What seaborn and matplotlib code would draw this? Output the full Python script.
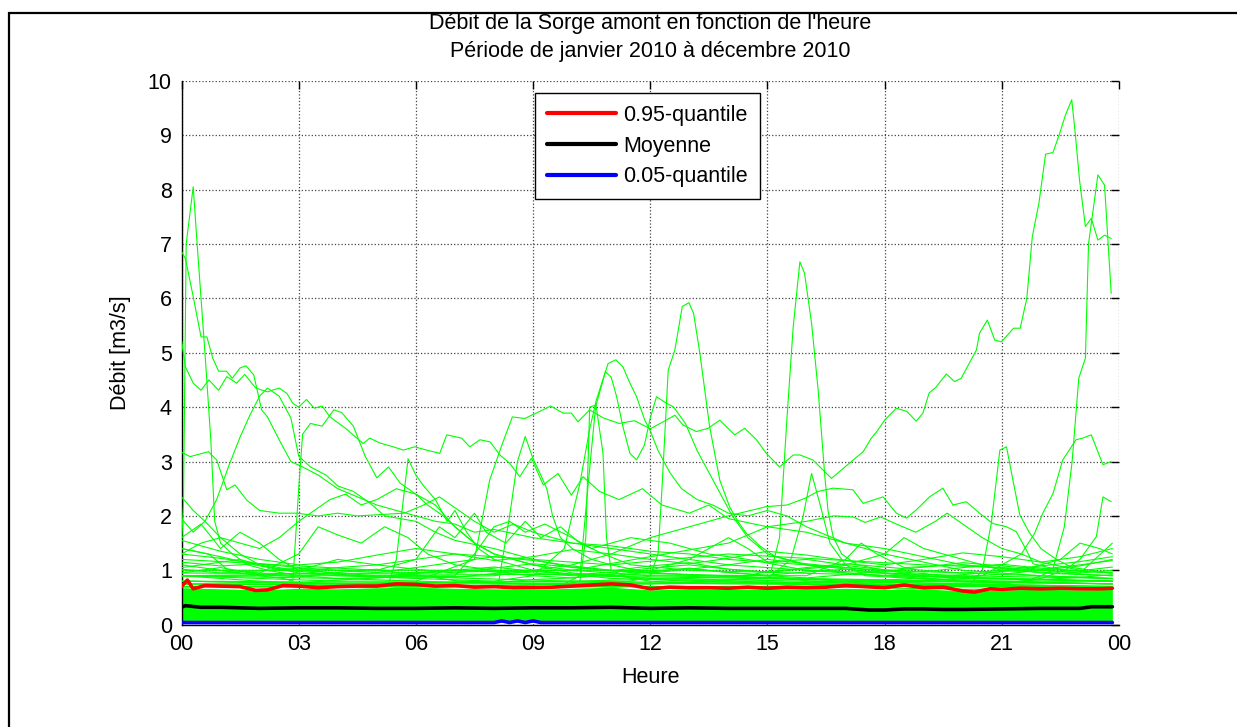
import matplotlib
matplotlib.use("Agg")
import matplotlib.pyplot as plt
import matplotlib.patches as mpatches
import pandas as pd
import seaborn as sns

# ---------------------------------------------------------------
# Débit horaire de la Sorge amont, 2010 (m3/s)
# Chaque journée marquante : heures (h) et débits (q)
# ---------------------------------------------------------------
j01_h = [0, 0.05, 0.12, 0.3, 0.4, 0.5, 0.6, 0.75, 0.85, 1.0, 1.3, 1.7, 2.2, 3.0, 4.0, 6.0, 9.0, 12.0, 16.0, 20.0, 23.83]
j01_q = [1.5, 2.2, 7.0, 8.05, 7.0, 6.0, 5.0, 3.4, 1.9, 1.5, 1.3, 1.1, 1.0, 0.9, 0.85, 0.8, 0.75, 0.7, 0.7, 0.65, 0.65]

j02_h = [0, 0.1, 0.3, 0.5, 0.65, 0.8, 0.95, 1.15, 1.3, 1.5, 1.65, 1.85, 2.05, 2.2, 2.5, 2.8, 3.1, 3.5, 4.0, 4.5,
         5.0, 5.5, 6.0, 6.5, 7.0, 7.5, 8.0, 9.0, 10, 11, 12, 13, 14, 16, 18, 20, 22, 23.83]
j02_q = [6.86, 6.73, 6.03, 5.29, 5.29, 4.9, 4.66, 4.66, 4.53, 4.72, 4.76, 4.59, 3.95, 3.82, 3.4, 3.0, 2.9, 2.75, 2.5, 2.35,
         2.2, 2.1, 2.0, 1.9, 1.85, 1.7, 1.75, 1.6, 1.5, 1.45, 1.35, 1.3, 1.2, 1.1, 1.0, 0.95, 0.9, 0.85]

j03_h = [0, 0.1, 0.3, 0.5, 0.7, 0.95, 1.16, 1.41, 1.62, 1.9, 2.2, 2.5, 2.7, 2.85, 3.0, 3.2, 3.4, 3.6, 3.8, 4.2,
         4.65, 4.82, 5.08, 5.42, 5.68, 5.97, 6.27, 6.61, 6.79, 7.17, 7.38, 7.64, 7.9, 8.15, 8.4, 8.66, 8.96, 9.26,
         9.64, 9.98, 10.28, 10.7, 11.2, 11.8, 12.3, 13.0, 13.5, 14.0, 15.0, 16.0, 17.0, 18.0, 19.0, 20.0, 21.0, 22.0, 23.83]
j03_q = [5.23, 4.74, 4.44, 4.31, 4.5, 4.31, 4.56, 4.44, 4.6, 4.35, 4.28, 4.35, 4.25, 4.07, 4.0, 4.14, 3.98, 4.02, 3.82, 3.61,
         3.33, 3.43, 3.34, 3.27, 3.21, 3.27, 3.21, 3.15, 3.49, 3.43, 3.27, 3.4, 3.36, 3.12, 2.97, 2.72, 3.06, 2.57,
         2.78, 2.38, 2.72, 2.45, 2.3, 2.5, 2.2, 2.05, 2.2, 1.95, 1.8, 1.7, 1.5, 1.4, 1.25, 1.1, 1.05, 0.95, 0.9]

j04_h = [0, 0.22, 0.69, 0.9, 1.16, 1.37, 1.67, 2.0, 2.5, 2.95, 3.5, 4.0, 4.5, 5.0, 5.7, 6.2, 6.6, 7.0, 7.5, 8.0,
         8.5, 9, 10, 11, 12, 13, 14, 16, 18, 20, 23.83]
j04_q = [3.17, 3.09, 3.18, 3.03, 2.48, 2.57, 2.29, 2.1, 2.05, 2.05, 2.0, 2.05, 2.0, 2.02, 2.05, 2.2, 2.35, 2.15, 1.9, 1.7,
         1.85, 1.7, 1.5, 1.4, 1.3, 1.2, 1.1, 1.0, 0.95, 0.9, 0.85]

j05_h = [0, 0.3, 0.6, 0.9, 1.2, 1.5, 1.75, 2.0, 2.2, 2.5, 2.8, 3.0, 3.3, 3.7, 4.0, 4.4, 4.8, 5.2, 5.6, 6.0,
         6.5, 7.0, 8, 9, 10, 12, 15, 18, 23.83]
j05_q = [2.35, 2.1, 1.9, 2.3, 2.9, 3.45, 3.85, 4.2, 4.35, 4.2, 3.8, 3.1, 2.9, 2.75, 2.55, 2.45, 2.25, 2.0, 1.95, 1.9,
         1.7, 1.55, 1.4, 1.2, 1.05, 0.95, 0.85, 0.8, 0.75]

j06_h = [0, 1, 2, 2.6, 2.85, 3.0, 3.1, 3.3, 3.6, 3.9, 4.1, 4.4, 4.7, 5.0, 5.3, 5.6, 6.0, 6.3, 6.7, 7.0,
         7.5, 8, 9, 10, 12, 16, 20, 23.83]
j06_q = [1.1, 1.0, 0.9, 0.85, 0.8, 2.5, 3.5, 3.7, 3.65, 3.95, 3.9, 3.65, 3.1, 2.7, 2.9, 2.6, 2.4, 2.2, 2.0, 1.8,
         1.5, 1.3, 1.1, 0.95, 0.85, 0.8, 0.75, 0.7]

j07_h = [0, 3, 5.3, 5.5, 5.8, 6.0, 6.2, 6.5, 6.8, 7.0, 7.3, 7.6, 8.0, 9, 11, 14, 18, 23.83]
j07_q = [0.7, 0.7, 0.75, 1.2, 3.05, 2.75, 2.55, 2.3, 1.9, 2.1, 1.7, 1.4, 1.2, 1.0, 0.85, 0.8, 0.75, 0.7]

j08_h = [0, 4, 7.5, 8.1, 8.4, 8.6, 8.8, 9.0, 9.2, 9.35, 9.5, 9.7, 10, 10.5, 11, 12, 14, 17, 20, 23.83]
j08_q = [0.8, 0.75, 0.7, 0.7, 2.0, 3.0, 3.46, 3.05, 2.75, 2.5, 2.0, 1.6, 1.4, 1.2, 1.1, 0.95, 0.9, 0.8, 0.75, 0.7]

# journée de la crue du soir (pointe à 9.6 m3/s)
j09_h = [0, 2, 4, 6, 7.5, 7.89, 8.2, 8.47, 8.79, 8.96, 9.17, 9.45, 9.77, 9.98, 10.15, 10.45, 10.8, 11.2, 11.6, 12.0,
         12.33, 12.63, 12.84, 13.18, 13.48, 13.78, 14.16, 14.42, 14.72, 14.97, 15.31, 15.66, 15.83, 16.16, 16.64,
         17.15, 17.45, 17.66, 17.8, 18.0, 18.3, 18.57, 18.81, 18.98, 19.14, 19.32, 19.58, 19.79, 19.96, 20.35,
         20.43, 20.63, 20.82, 20.99, 21.3, 21.47, 21.64, 21.78, 21.95, 22.12, 22.31, 22.48, 22.63, 22.79, 22.88,
         22.99, 23.14, 23.29, 23.46, 23.63, 23.8]
j09_q = [0.9, 0.85, 0.8, 0.8, 1.2, 2.66, 3.3, 3.82, 3.79, 3.85, 3.92, 4.02, 3.89, 3.89, 3.73, 3.95, 3.8, 3.7, 3.75, 3.6,
         3.73, 3.85, 3.67, 3.55, 3.61, 3.76, 3.49, 3.61, 3.4, 3.15, 2.9, 3.12, 3.12, 3.03, 2.69,
         3.0, 3.18, 3.43, 3.55, 3.76, 3.98, 3.92, 3.74, 3.89, 4.26, 4.37, 4.61, 4.47, 4.53, 5.05,
         5.36, 5.6, 5.23, 5.2, 5.45, 5.45, 6.0, 7.13, 7.75, 8.65, 8.68, 9.03, 9.37, 9.65, 9.03,
         8.17, 7.32, 7.47, 7.07, 7.16, 7.1]

j10_h = [0, 10, 20, 21.0, 21.6, 22.0, 22.3, 22.6, 22.8, 22.97, 23.14, 23.22, 23.46, 23.63, 23.8]
j10_q = [0.7, 0.7, 0.7, 0.75, 0.8, 0.9, 1.0, 1.8, 3.0, 4.53, 4.9, 7.0, 8.27, 8.08, 6.09]

j11_h = [0, 5, 10, 13, 14.5, 15.1, 15.31, 15.5, 15.66, 15.83, 15.95, 16.13, 16.3, 16.47, 16.55, 16.68, 16.9, 17.3,
         18, 19, 21, 23.83]
j11_q = [0.8, 0.75, 0.8, 0.85, 0.9, 1.0, 1.6, 3.8, 5.48, 6.67, 6.46, 5.54, 4.3, 2.72, 2.1, 1.62, 1.3, 1.1,
         1.0, 0.9, 0.85, 0.8]

j12_h = [0, 6, 10, 11.5, 12.0, 12.2, 12.3, 12.46, 12.63, 12.82, 12.99, 13.11, 13.27, 13.52, 13.78, 14.03, 14.25,
         14.46, 14.8, 15.2, 16, 17, 19, 21, 23.83]
j12_q = [0.75, 0.7, 0.75, 0.8, 0.9, 1.3, 2.5, 4.68, 5.05, 5.85, 5.92, 5.72, 4.99, 3.64, 2.66, 2.17, 1.89,
         1.68, 1.45, 1.25, 1.1, 0.95, 0.85, 0.8, 0.75]

j13_h = [0, 5, 8, 9, 9.8, 10.2, 10.45, 10.62, 10.92, 11.12, 11.3, 11.48, 11.65, 11.86, 11.99, 12.2, 12.5, 12.8,
         13.2, 13.6, 14, 14.5, 15, 15.5, 16, 17, 18, 19, 20, 22, 23.83]
j13_q = [0.8, 0.75, 0.8, 0.9, 1.4, 2.6, 3.6, 4.13, 4.8, 4.87, 4.74, 4.44, 4.19, 3.76, 3.58, 3.2, 2.8, 2.5,
         2.3, 2.2, 2.05, 2.0, 2.1, 2.0, 1.8, 1.5, 1.3, 1.15, 1.0, 0.9, 0.85]

j14_h = [0, 8, 9.8, 10.2, 10.4, 10.6, 10.85, 11.0, 11.14, 11.3, 11.48, 11.65, 11.85, 12.0, 12.16, 12.35, 12.6,
         12.9, 13.2, 13.5, 13.8, 14.1, 14.5, 15, 16, 18, 20, 23.83]
j14_q = [0.7, 0.7, 0.75, 0.9, 2.5, 4.0, 4.65, 4.55, 4.19, 3.64, 3.15, 3.03, 3.3, 3.8, 4.19, 4.1, 4.0,
         3.7, 3.2, 2.8, 2.4, 2.0, 1.6, 1.3, 1.1, 0.95, 0.85, 0.8]

j15_h = [0, 9.5, 10.2, 10.35, 10.45, 10.61, 10.79, 10.88, 11.0, 11.5, 13, 16, 20, 23.83]
j15_q = [0.7, 0.7, 0.8, 1.6, 4.0, 4.04, 3.15, 1.6, 1.0, 0.85, 0.8, 0.75, 0.7, 0.7]

j16_h = [0, 10, 18, 20.2, 20.5, 20.73, 20.95, 21.12, 21.3, 21.46, 21.7, 22.0, 22.4, 22.8, 23.83]
j16_q = [0.75, 0.7, 0.7, 0.75, 1.0, 1.86, 3.21, 3.27, 2.6, 2.02, 1.7, 1.4, 1.2, 1.05, 0.95]

j17_h = [0, 12, 19, 20.5, 21.0, 21.5, 21.84, 22.05, 22.31, 22.56, 22.9, 23.07, 23.29, 23.59, 23.8]
j17_q = [0.8, 0.75, 0.8, 0.9, 1.1, 1.3, 1.68, 2.05, 2.41, 3.03, 3.4, 3.43, 3.49, 2.94, 3.0]

j18_h = [0, 15, 21, 22, 22.6, 23.0, 23.42, 23.59, 23.8]
j18_q = [0.7, 0.7, 0.75, 0.85, 1.0, 1.2, 1.62, 2.35, 2.26]

j19_h = [0, 4, 8, 10, 11, 12, 13, 14, 14.97, 15.5, 15.95, 16.3, 16.68, 17.19, 17.45, 17.96, 18.3, 18.56, 18.81,
         19.15, 19.49, 19.75, 20.09, 20.43, 20.77, 21.12, 21.37, 21.63, 21.8, 22.5, 23.83]
j19_q = [0.9, 0.85, 0.9, 1.1, 1.3, 1.6, 1.8, 2.0, 2.17, 2.2, 2.32, 2.45, 2.51, 2.48, 2.23, 2.35, 2.05, 1.96, 2.11,
         2.35, 2.51, 2.2, 2.26, 2.05, 1.86, 1.8, 1.71, 1.37, 1.12, 1.0, 0.95]

j20_h = [0, 10, 14, 15, 16, 16.7, 17.2, 17.5, 17.9, 18.3, 18.8, 19.3, 19.6, 20, 20.5, 21, 21.5, 22, 23, 23.83]
j20_q = [0.9, 1.0, 1.5, 1.8, 1.9, 2.0, 1.98, 1.88, 1.98, 1.85, 1.7, 1.9, 2.05, 1.85, 1.6, 1.4, 1.3, 1.15, 1.0, 0.95]

j21_h = [0, 12, 15.0, 15.6, 15.91, 16.13, 16.34, 16.6, 17.0, 17.5, 20, 23.83]
j21_q = [0.75, 0.75, 0.85, 1.2, 1.98, 2.78, 2.23, 1.5, 1.1, 0.9, 0.8, 0.75]

j22_h = [0, 0.5, 1, 1.5, 2, 2.5, 3.0, 3.4, 3.8, 4.2, 4.6, 5.0, 5.5, 6.0, 6.5, 7.0, 7.5, 8.0, 9, 10, 12, 16, 20, 23.83]
j22_q = [1.3, 1.5, 1.6, 1.5, 1.4, 1.6, 1.9, 2.1, 2.3, 2.4, 2.2, 2.3, 2.5, 2.4, 2.2, 1.8, 1.5, 1.3, 1.1, 1.0, 0.9, 0.85, 0.8, 0.8]

j23_h = [0, 0.3, 0.6, 1.0, 1.5, 2, 3, 4, 8, 14, 23.83]
j23_q = [1.95, 1.7, 1.9, 1.6, 1.3, 1.1, 0.95, 0.9, 0.8, 0.75, 0.7]

j24_h = [0, 0.5, 1.0, 1.5, 2.0, 2.5, 3.0, 5, 10, 16, 23.83]
j24_q = [1.6, 1.85, 1.4, 1.7, 1.5, 1.2, 1.0, 0.9, 0.8, 0.75, 0.7]

j25_h = [0, 0.7, 1.2, 2, 3, 3.5, 4, 4.6, 5.2, 5.8, 6.3, 7, 8, 10, 23.83]
j25_q = [1.4, 1.3, 1.0, 0.95, 1.3, 1.8, 1.65, 1.5, 1.8, 1.6, 1.3, 1.1, 1.0, 0.9, 0.75]

j26_h = [0, 5, 6, 6.6, 7.0, 7.5, 7.8, 8.3, 8.8, 9.2, 9.7, 10.2, 10.8, 11.5, 13, 23.83]
j26_q = [1.2, 1.0, 1.2, 1.8, 1.6, 2.05, 1.7, 1.5, 1.9, 1.6, 1.8, 1.5, 1.3, 1.1, 1.0, 0.8]

j27_h = [0, 7, 7.5, 8, 8.4, 8.8, 9.3, 10, 10.5, 11.5, 12.5, 13.5, 14.5, 16, 18, 23.83]
j27_q = [0.9, 0.9, 1.3, 1.8, 1.9, 1.7, 1.85, 1.6, 1.4, 1.6, 1.5, 1.3, 1.2, 1.0, 0.9, 0.8]

j28_h = [0, 12, 13, 14, 14.5, 15, 16, 17, 18, 18.5, 19, 20, 21, 23.83]
j28_q = [1.0, 1.0, 1.2, 1.6, 1.4, 1.15, 1.2, 1.1, 1.3, 1.6, 1.4, 1.2, 1.0, 0.9]

j29_h = [0, 16, 17, 17.4, 17.8, 18.5, 20, 21.5, 22.5, 23, 23.5, 23.83]
j29_q = [0.95, 0.9, 1.2, 1.5, 1.3, 1.05, 1.1, 1.0, 1.2, 1.5, 1.4, 1.3]

j30_h = [0, 1.5, 2.5, 3, 4, 5, 7, 9, 11, 14, 19, 21, 22, 23, 23.83]
j30_q = [1.05, 1.2, 1.0, 1.0, 1.2, 1.1, 1.3, 1.2, 1.1, 1.3, 1.1, 1.05, 1.0, 0.95, 1.5]

# journées ordinaires, relevé horaire
heures = [0, 1, 2, 3, 4, 5, 6, 7, 8, 9, 10, 11, 12, 13, 14, 15, 16, 17, 18, 19, 20, 21, 22, 23, 23.83]
r01 = [0.90, 0.85, 0.80, 0.76, 0.82, 0.86, 0.92, 0.81, 0.77, 0.83, 0.86, 0.92, 0.80, 0.77, 0.82, 0.88, 0.81, 0.76, 0.82, 0.86, 0.80, 0.77, 0.83, 0.87, 0.92]
r02 = [1.02, 0.95, 0.99, 1.04, 0.93, 0.88, 0.95, 1.01, 0.97, 0.90, 0.86, 0.93, 0.99, 1.03, 0.96, 0.91, 0.97, 1.02, 0.94, 0.88, 0.92, 0.98, 1.01, 0.95, 1.00]
r03 = [1.15, 1.08, 1.12, 0.98, 1.05, 1.10, 1.02, 0.95, 1.04, 1.12, 1.06, 0.99, 1.08, 1.14, 1.02, 0.96, 1.03, 1.09, 1.01, 0.97, 1.05, 1.11, 1.04, 0.99, 1.06]
r04 = [1.30, 1.22, 1.12, 1.05, 1.00, 0.96, 1.05, 1.15, 1.25, 1.18, 1.08, 1.00, 0.95, 1.02, 1.10, 1.20, 1.12, 1.05, 0.98, 1.06, 1.14, 1.08, 1.02, 1.10, 1.18]
r05 = [1.55, 1.35, 1.20, 1.10, 1.15, 1.28, 1.40, 1.30, 1.18, 1.25, 1.38, 1.30, 1.20, 1.12, 1.22, 1.35, 1.28, 1.18, 1.10, 1.20, 1.32, 1.25, 1.15, 1.25, 1.40]
r06 = [0.95, 1.05, 0.92, 0.88, 0.96, 1.02, 0.90, 0.87, 0.94, 1.00, 0.93, 0.89, 0.97, 1.04, 0.96, 0.90, 0.86, 0.92, 0.99, 0.94, 0.88, 0.93, 1.00, 1.08, 1.20]
r07 = [1.40, 1.25, 1.08, 0.98, 0.92, 0.88, 0.94, 1.00, 1.06, 0.98, 0.92, 0.96, 1.04, 1.10, 1.02, 0.97, 1.05, 1.12, 1.06, 1.00, 0.95, 1.00, 1.08, 1.16, 1.25]

# enveloppe du faisceau des 365 journées (zone dense)
env_bas = [0.05] * 25
env_haut = [0.68, 0.66, 0.64, 0.67, 0.66, 0.68, 0.69, 0.67, 0.66, 0.65, 0.67, 0.69, 0.64, 0.66, 0.65, 0.66, 0.66, 0.67, 0.65, 0.66, 0.62, 0.64, 0.65, 0.64, 0.65]

# statistiques horaires
q95_h = [0, 0.15, 0.3, 0.6, 1, 1.5, 1.9, 2.2, 2.6, 3, 3.5, 4, 4.5, 5, 5.5, 6, 6.5, 7, 7.5, 8, 8.5, 9, 9.5, 10, 10.5,
         11, 11.5, 12, 12.5, 13, 13.5, 14, 14.5, 15, 15.5, 16, 16.5, 17, 17.5, 18, 18.5, 19, 19.5, 20, 20.3, 20.7,
         21, 21.5, 22, 22.5, 23, 23.5, 23.83]
q95_q = [0.70, 0.82, 0.66, 0.72, 0.71, 0.70, 0.63, 0.64, 0.72, 0.71, 0.68, 0.70, 0.71, 0.71, 0.75, 0.74, 0.71, 0.72,
         0.69, 0.70, 0.68, 0.68, 0.69, 0.71, 0.73, 0.75, 0.73, 0.66, 0.69, 0.68, 0.68, 0.67, 0.69, 0.67, 0.69, 0.68,
         0.69, 0.72, 0.70, 0.68, 0.73, 0.68, 0.69, 0.62, 0.60, 0.66, 0.65, 0.67, 0.66, 0.67, 0.66, 0.66, 0.67]

moy_h = [0, 0.1, 0.5, 1, 2, 3, 4, 5, 6, 7, 8, 9, 10, 11, 12, 13, 14, 15, 16, 17, 17.6, 18, 18.5, 19, 19.5, 20, 21,
         22, 23, 23.3, 23.83]
moy_q = [0.32, 0.35, 0.32, 0.32, 0.30, 0.31, 0.31, 0.30, 0.30, 0.31, 0.30, 0.31, 0.31, 0.32, 0.30, 0.31, 0.30, 0.30,
         0.30, 0.30, 0.27, 0.27, 0.29, 0.29, 0.28, 0.28, 0.29, 0.30, 0.30, 0.33, 0.33]

q05_h = [0, 8.0, 8.2, 8.4, 8.6, 8.8, 9.0, 9.2, 23.83]
q05_q = [0.04, 0.04, 0.07, 0.04, 0.07, 0.04, 0.07, 0.04, 0.04]

titre_1 = "Débit de la Sorge amont en fonction de l'heure"
titre_2 = "Période de janvier 2010 à décembre 2010"
graduations_x = [0, 3, 6, 9, 12, 15, 18, 21, 24]
etiquettes_x = ["00", "03", "06", "09", "12", "15", "18", "21", "00"]
graduations_y = list(range(0, 11))

# ---------------------------------------------------------------
journees = [
    ("j01", j01_h, j01_q), ("j02", j02_h, j02_q), ("j03", j03_h, j03_q), ("j04", j04_h, j04_q),
    ("j05", j05_h, j05_q), ("j06", j06_h, j06_q), ("j07", j07_h, j07_q), ("j08", j08_h, j08_q),
    ("j09", j09_h, j09_q), ("j10", j10_h, j10_q), ("j11", j11_h, j11_q), ("j12", j12_h, j12_q),
    ("j13", j13_h, j13_q), ("j14", j14_h, j14_q), ("j15", j15_h, j15_q), ("j16", j16_h, j16_q),
    ("j17", j17_h, j17_q), ("j18", j18_h, j18_q), ("j19", j19_h, j19_q), ("j20", j20_h, j20_q),
    ("j21", j21_h, j21_q), ("j22", j22_h, j22_q), ("j23", j23_h, j23_q), ("j24", j24_h, j24_q),
    ("j25", j25_h, j25_q), ("j26", j26_h, j26_q), ("j27", j27_h, j27_q), ("j28", j28_h, j28_q),
    ("j29", j29_h, j29_q), ("j30", j30_h, j30_q),
]
for i, r in enumerate([r01, r02, r03, r04, r05, r06, r07]):
    journees.append((f"r{i + 1:02d}", heures, r))

rows = []
for nom, hh, qq in journees:
    for h, q in zip(hh, qq):
        rows.append({"jour": nom, "heure": h, "debit": q})
df = pd.DataFrame(rows)

stats = pd.concat([
    pd.DataFrame({"heure": q95_h, "debit": q95_q, "serie": "0.95-quantile"}),
    pd.DataFrame({"heure": moy_h, "debit": moy_q, "serie": "Moyenne"}),
    pd.DataFrame({"heure": q05_h, "debit": q05_q, "serie": "0.05-quantile"}),
])

sns.set_style("white")
plt.rcParams["font.family"] = ["Liberation Sans", "DejaVu Sans"]
plt.rcParams["text.color"] = "black"
plt.rcParams["axes.labelcolor"] = "black"

W, H = 1237, 727
fig = plt.figure(figsize=(W / 100, H / 100), dpi=100)
x0, x1, y0, y1 = 181.5, 1119.0, 80.7, 624.7
ax = fig.add_axes([x0 / W, 1 - y1 / H, (x1 - x0) / W, (y1 - y0) / H])

VERT = "#00ff00"
ax.fill_between(heures, env_bas, env_haut, color=VERT, lw=0, zorder=2)
sns.lineplot(data=df, x="heure", y="debit", units="jour", estimator=None,
             color=VERT, lw=0.8, ax=ax, legend=False, zorder=3)

sns.lineplot(data=stats, x="heure", y="debit", hue="serie",
             palette={"0.95-quantile": "#ff0000", "Moyenne": "#000000", "0.05-quantile": "#0000ff"},
             estimator=None, lw=2.6, ax=ax, zorder=5)

ax.set_xlim(0, 24)
ax.set_ylim(0, 10)
ax.set_xticks(graduations_x)
ax.set_xticklabels(etiquettes_x)
ax.set_yticks(graduations_y)
ax.tick_params(axis="both", labelsize=15.5, direction="in", length=6, width=1,
               top=True, right=True, pad=7, colors="black")
ax.grid(True, linestyle=":", color="#444444", lw=0.9)
ax.set_axisbelow(True)
for s in ["top", "right"]:
    ax.spines[s].set_visible(False)
for s in ["left", "bottom"]:
    ax.spines[s].set_color("black")
    ax.spines[s].set_linewidth(1.0)

ax.set_xlabel("Heure", fontsize=15.5, labelpad=8, color="black")
ax.set_ylabel("Débit [m3/s]", fontsize=15.5, labelpad=12, color="black")

fig.text(650 / W, 1 - 23 / H, titre_1, ha="center", va="center", fontsize=15.5, color="black")
fig.text(650 / W, 1 - 51 / H, titre_2, ha="center", va="center", fontsize=15.5, color="black")

leg = ax.legend(loc="upper left", bbox_to_anchor=((535 - x0) / (x1 - x0), (y1 - 93) / (y1 - y0)),
                borderaxespad=0, fontsize=15.5, handlelength=3.2, handletextpad=0.35,
                labelspacing=0.45, borderpad=0.55, fancybox=False, framealpha=1)
leg.get_frame().set_edgecolor("black")
leg.get_frame().set_linewidth(1.0)
for ln in leg.get_lines():
    ln.set_linewidth(3)
for t in leg.get_texts():
    t.set_color("black")

# cadre de la figure
fig.patches.append(mpatches.Rectangle((9 / W, -0.05), 1.1, 1 - 13 / H + 0.05, transform=fig.transFigure,
                                      fill=False, edgecolor="black", lw=1.6))

fig.savefig("out.png", dpi=100, facecolor="white")
